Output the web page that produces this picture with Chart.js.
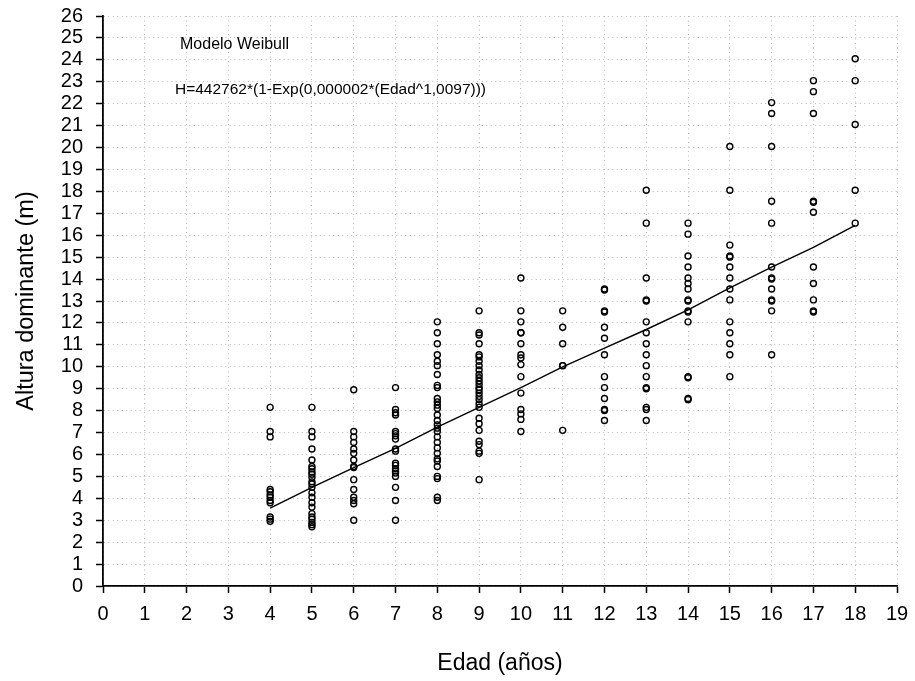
<!DOCTYPE html>
<html>
<head>
<meta charset="utf-8">
<script src="https://cdn.jsdelivr.net/npm/chart.js@4"></script>
<style>
html,body{margin:0;padding:0;background:#fff;}
#wrap{width:915px;height:681px;position:relative;}
</style>
</head>
<body>
<div id="wrap"><canvas id="c"></canvas></div>
<script>
// ---- Observed dominant heights (m) by age (años) ----
const age4  = [8.15, 7.05, 6.8, 4.4, 4.3, 4.15, 4.05, 3.9, 3.8, 3.15, 3.05, 2.95];
const age5  = [8.15, 7.05, 6.8, 6.25, 5.75, 5.45, 5.35, 5.2, 5.1, 4.95, 4.75, 4.65, 4.5, 4.25, 4.05, 3.8, 3.6, 3.3, 3.15, 3.05, 2.9, 2.8, 2.7];
const age6  = [8.95, 7.05, 6.8, 6.55, 6.25, 6.05, 5.75, 5.45, 5.4, 4.85, 4.4, 4.05, 3.9, 3.75, 3.0];
const age7  = [9.05, 8.05, 7.9, 7.8, 7.05, 6.95, 6.85, 6.7, 6.25, 6.15, 5.6, 5.5, 5.35, 5.25, 5.15, 5.0, 4.5, 3.9, 3.0];
const age8  = [12.05, 11.55, 11.05, 10.55, 10.25, 10.05, 9.65, 9.15, 9.05, 8.55, 8.4, 8.25, 8.1, 7.8, 7.55, 7.35, 7.2, 7.05, 6.8, 6.55, 6.3, 6.05, 5.8, 5.7, 5.45, 5.0, 4.9, 4.05, 3.9];
const age9  = [12.55, 11.55, 11.45, 11.05, 10.55, 10.45, 10.25, 10.05, 9.85, 9.65, 9.5, 9.35, 9.2, 9.05, 8.95, 8.8, 8.65, 8.5, 8.3, 8.15, 7.65, 7.4, 7.1, 6.6, 6.45, 6.15, 6.05, 4.85];
const age10 = [14.05, 12.55, 12.05, 11.55, 11.55, 11.05, 10.55, 10.4, 10.1, 9.55, 8.8, 8.05, 7.85, 7.6, 7.05];
const age11 = [12.55, 11.8, 11.05, 10.05, 10.05, 7.1];
const age12 = [13.55, 13.5, 12.55, 12.5, 11.8, 11.3, 10.55, 9.55, 9.05, 8.55, 8.05, 8.0, 7.55];
const age13 = [18.05, 16.55, 14.05, 13.05, 13.0, 12.05, 11.55, 11.05, 10.55, 10.05, 9.55, 9.05, 9.0, 8.15, 8.05, 7.55];
const age14 = [16.55, 16.05, 15.05, 14.55, 14.05, 13.8, 13.55, 13.05, 13.0, 12.55, 12.5, 12.05, 9.55, 9.5, 8.55, 8.5];
const age15 = [20.05, 18.05, 15.55, 15.05, 15.0, 14.55, 14.05, 13.55, 13.05, 12.05, 11.55, 11.05, 10.55, 9.55];
const age16 = [22.05, 21.55, 20.05, 17.55, 16.55, 14.55, 14.05, 14.0, 13.55, 13.05, 13.0, 12.55, 10.55];
const age17 = [23.05, 22.55, 21.55, 17.55, 17.5, 17.05, 14.55, 13.8, 13.05, 12.55, 12.5];
const age18 = [24.05, 23.05, 21.05, 18.05, 16.55];

const ages = [4,5,6,7,8,9,10,11,12,13,14,15,16,17,18];
const observed = [age4, age5, age6, age7, age8, age9, age10, age11, age12, age13, age14, age15, age16, age17, age18];

// ---- Fitted Weibull curve ----
const fitAges    = [4, 5, 6, 7, 8, 9, 10, 11, 12, 13, 14, 15, 16, 17, 18];
const fitHeights = [3.55, 4.5, 5.4, 6.28, 7.25, 8.15, 9.05, 10.0, 10.85, 11.7, 12.6, 13.6, 14.55, 15.45, 16.45];

// ---- Text ----
const xTitle = 'Edad (años)';
const yTitle = 'Altura dominante (m)';
const noteModel = 'Modelo Weibull';
const noteFormula = 'H=442762*(1-Exp(0,000002*(Edad^1,0097)))';

const pts = [];
ages.forEach((a, i) => observed[i].forEach(h => pts.push({x: a, y: h})));
const fitPts = fitAges.map((a, i) => ({x: a, y: fitHeights[i]}));

const FONT = 'Arial, "Liberation Sans", sans-serif';

const notes = {
  id: 'notes',
  afterDraw(chart) {
    const ctx = chart.ctx;
    ctx.save();
    ctx.fillStyle = '#000';
    ctx.textBaseline = 'middle';
    ctx.textAlign = 'left';
    ctx.font = '16px ' + FONT;
    ctx.fillText(noteModel, 180, 45);
    ctx.font = '15.5px ' + FONT;
    ctx.fillText(noteFormula, 175, 90);
    ctx.restore();
  }
};

new Chart(document.getElementById('c'), {
  type: 'scatter',
  data: {
    datasets: [
      {
        data: pts,
        pointStyle: 'circle',
        pointRadius: 3,
        pointBorderWidth: 1.4,
        borderColor: '#000',
        backgroundColor: 'rgba(0,0,0,0)',
        pointHoverRadius: 3
      },
      {
        type: 'line',
        data: fitPts,
        showLine: true,
        borderColor: '#000',
        borderWidth: 1.4,
        pointRadius: 0,
        fill: false,
        tension: 0
      }
    ]
  },
  options: {
    responsive: true,
    maintainAspectRatio: false,
    animation: false,
    events: [],
    layout: { padding: { left: 0, right: 18, top: 16, bottom: 0 } },
    plugins: { legend: { display: false }, tooltip: { enabled: false } },
    scales: {
      x: {
        type: 'linear',
        min: 0, max: 19,
        afterFit(s) { s.height = 95; s.paddingLeft = 0; s.paddingRight = 0; },
        ticks: { stepSize: 1, color: '#000', font: { family: FONT, size: 20 }, padding: 9, maxRotation: 0 },
        grid: { color: '#b8b8b8', lineWidth: 1, drawTicks: true, tickLength: 7, tickColor: '#000', tickWidth: 1.5, tickBorderDash: [] },
        border: { display: true, color: '#000', width: 1.8, dash: [1, 3.5] },
        title: { display: true, text: xTitle, color: '#000', font: { family: FONT, size: 23 }, padding: { top: 0, bottom: 4 } }
      },
      y: {
        type: 'linear',
        min: 0, max: 26,
        afterFit(s) { s.width = 103; s.paddingTop = 0; s.paddingBottom = 0; },
        ticks: { stepSize: 1, color: '#000', font: { family: FONT, size: 20 }, padding: 13, autoSkip: false },
        grid: { color: '#b8b8b8', lineWidth: 1, drawTicks: true, tickLength: 7, tickColor: '#000', tickWidth: 1.5, tickBorderDash: [] },
        border: { display: true, color: '#000', width: 1.8, dash: [1, 3.5] },
        title: { display: true, text: yTitle, color: '#000', font: { family: FONT, size: 23.5 }, padding: { top: 12, bottom: 0 } }
      }
    }
  },
  plugins: [notes]
});
</script>
</body>
</html>
